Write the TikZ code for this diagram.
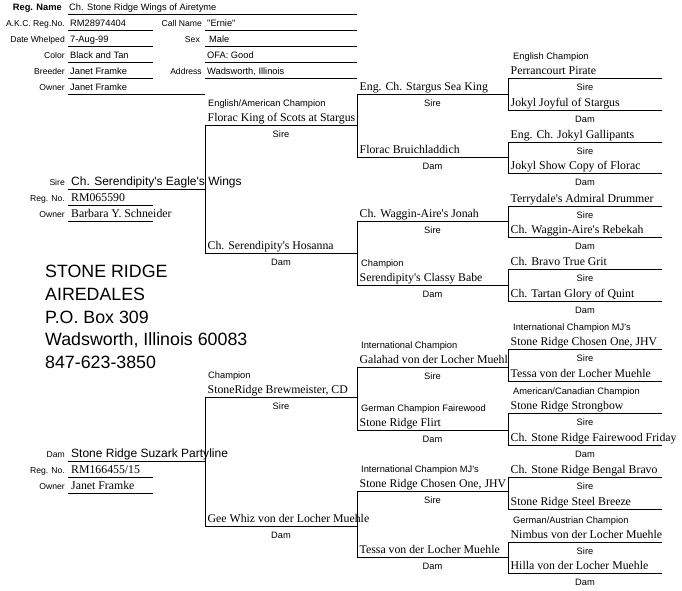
\documentclass[tikz,border=0pt]{standalone}
\usepackage{fontspec}
\setmainfont{Liberation Serif}
\newfontfamily\lsans{Liberation Sans}
\newfontfamily\lserif{Liberation Serif}
% #1 prefix, #2 x of vertical, #3 x right end, #4 upper y, #5 lower y,
% #6 upper name, #7 lower name, #8 label under the lower line (empty: none)
\newcommand\pedpair[8]{%
  \coordinate (#1ua) at (#3,#4);
  \coordinate (#1ub) at (#2,#4);
  \coordinate (#1la) at (#2,#5);
  \coordinate (#1lb) at (#3,#5);
  \draw[ln] (#1ua) -- (#1ub) -- (#1la) -- (#1lb);
  \node[nm] (#1u) at ({#2+2.5},{#4-3.5}) {#6};
  \node[nm] (#1l) at ({#2+2.5},{#5-3.5}) {#7};
  \node[lab] (#1s) at ({(#2+#3)/2},{#4+9.5}) {Sire};
  \if\relax\detokenize{#8}\relax\else
    \node[lab] (#1d) at ({(#2+#3)/2},{#5+9.5}) {#8};
  \fi
}
\begin{document}
\begin{tikzpicture}[x=1pt,y=-1pt,
  ln/.style={line width=0.9pt},
  hl/.style={font=\lsans\fontsize{8.6}{10}\selectfont, inner sep=0pt, anchor=base east},
  hv/.style={font=\lsans\fontsize{9.3}{11}\selectfont, inner sep=0pt, anchor=base west},
  lab/.style={font=\lsans\fontsize{9.3}{11}\selectfont, inner sep=0pt},
  ttl/.style={font=\lsans\fontsize{9.3}{11}\selectfont, inner sep=0pt, anchor=base west},
  nm/.style={font=\lserif\fontsize{11.8}{14}\selectfont, inner sep=0pt, anchor=base west},
  big/.style={font=\lsans\fontsize{12}{14}\selectfont, inner sep=0pt, anchor=base west},
  addr/.style={font=\lsans\fontsize{17.8}{20}\selectfont, inner sep=0pt, anchor=base west},
]
\fill[white] (0,0) rectangle (682,591);
\useasboundingbox (0,0) rectangle (682,591);

% ---- header form ----
\draw[ln] (68,14) -- (357,14);
\foreach \y in {30,46,62,78}{\draw[ln] (68,\y) -- (153,\y); \draw[ln] (205,\y) -- (357,\y);}
\draw[ln] (68,94) -- (205,94);

\node[hl,font=\lsans\bfseries\fontsize{9.3}{11}\selectfont] (hRN) at (62,10.5) {Reg. Name};
\node[hv] (vRN) at (69,10.5) {Ch. Stone Ridge Wings of Airetyme};
\node[hl] (hAKC) at (65,26.5) {A.K.C. Reg.No.};
\node[hv] (vAKC) at (70,26.5) {RM28974404};
\node[hl] (hCN) at (202,26.5) {Call Name};
\node[hv] (vCN) at (207,26.5) {"Ernie"};
\node[hl] (hDW) at (65,42.5) {Date Whelped};
\node[hv] (vDW) at (70,42.5) {7-Aug-99};
\node[hl] (hSX) at (200,42.5) {Sex};
\node[hv] (vSX) at (209,42.5) {Male};
\node[hl] (hCO) at (65,58.5) {Color};
\node[hv] (vCO) at (70,58.5) {Black and Tan};
\node[hv] (vOFA) at (207,58.5) {OFA: Good};
\node[hl] (hBR) at (65,74.5) {Breeder};
\node[hv] (vBR) at (70,74.5) {Janet Framke};
\node[hl] (hAD) at (202,74.5) {Address};
\node[hv] (vAD) at (207,74.5) {Wadsworth, Illinois};
\node[hl] (hOW) at (65,90.5) {Owner};
\node[hv] (vOW) at (70,90.5) {Janet Framke};

% ---- generation 1 ----
\draw[ln] (68,189) -- (205,189);
\draw[ln] (68,205) -- (153,205);
\draw[ln] (68,221) -- (153,221);
\node[hl] (sL) at (65,185.5) {Sire};
\node[big] (sN) at (71,185.5) {Ch. Serendipity's Eagle's Wings};
\node[hl] (sRL) at (65,201.5) {Reg. No.};
\node[nm] (sR) at (71,201.5) {RM065590};
\node[hl] (sOL) at (65,217.5) {Owner};
\node[nm] (sO) at (71,217.5) {Barbara Y. Schneider};

\draw[ln] (68,461) -- (205,461);
\draw[ln] (68,477) -- (153,477);
\draw[ln] (68,493) -- (153,493);
\node[hl] (dL) at (65,457.5) {Dam};
\node[big] (dN) at (71,457.5) {Stone Ridge Suzark Partyline};
\node[hl] (dRL) at (65,473.5) {Reg. No.};
\node[nm] (dR) at (71,473.5) {RM166455/15};
\node[hl] (dOL) at (65,489.5) {Owner};
\node[nm] (dO) at (71,489.5) {Janet Framke};

% ---- kennel address ----
\node[addr] (k1) at (45,277) {STONE RIDGE};
\node[addr] (k2) at (45,300) {AIREDALES};
\node[addr] (k3) at (45,323) {P.O. Box 309};
\node[addr] (k4) at (45,345.5) {Wadsworth, Illinois 60083};
\node[addr] (k5) at (45,368) {847-623-3850};

% ---- generation 2 ----
\pedpair{gA}{205}{357}{125}{253}{Florac King of Scots at Stargus}{Ch. Serendipity's Hosanna}{Dam}
\pedpair{gB}{205}{357}{397}{526}{StoneRidge Brewmeister, CD}{Gee Whiz von der Locher Muehle}{Dam}
\node[ttl] (tgA) at (208,106.5) {English/American Champion};
\node[ttl] (tgB) at (208,378.5) {Champion};

% ---- generation 3 ----
\pedpair{hA}{357}{508}{94}{157}{Eng. Ch. Stargus Sea King}{Florac Bruichladdich}{Dam}
\pedpair{hB}{357}{508}{221}{285}{Ch. Waggin-Aire's Jonah}{Serendipity's Classy Babe}{Dam}
\pedpair{hC}{357}{508}{367}{430}{Galahad von der Locher Muehl}{Stone Ridge Flirt}{Dam}
\pedpair{hD}{357}{508}{491}{557}{Stone Ridge Chosen One, JHV}{Tessa von der Locher Muehle}{Dam}
\node[ttl] (thB) at (361,266.5) {Champion};
\node[ttl] (thC) at (361,348.5) {International Champion};
\node[ttl] (thCl) at (361,411.5) {German Champion Fairewood};
\node[ttl] (thD) at (361,472.5) {International Champion MJ's};

% ---- generation 4 ----
\pedpair{iA}{508}{662}{78}{110}{Perrancourt Pirate}{Jokyl Joyful of Stargus}{Dam}
\pedpair{iB}{508}{662}{142}{173}{Eng. Ch. Jokyl Gallipants}{Jokyl Show Copy of Florac}{Dam}
\pedpair{iC}{508}{662}{206}{237}{Terrydale's Admiral Drummer}{Ch. Waggin-Aire's Rebekah}{Dam}
\pedpair{iD}{508}{662}{269}{301}{Ch. Bravo True Grit}{Ch. Tartan Glory of Quint}{Dam}
\pedpair{iE}{508}{662}{349}{381}{Stone Ridge Chosen One, JHV}{Tessa von der Locher Muehle}{}
\pedpair{iF}{508}{662}{413}{445}{Stone Ridge Strongbow}{Ch. Stone Ridge Fairewood Friday}{Dam}
\pedpair{iG}{508}{662}{477}{509}{Ch. Stone Ridge Bengal Bravo}{Stone Ridge Steel Breeze}{}
\pedpair{iH}{508}{662}{542}{573}{Nimbus von der Locher Muehle}{Hilla von der Locher Muehle}{Dam}
\node[ttl] (tiA) at (513,59.5) {English Champion};
\node[ttl] (tiE) at (513,330.5) {International Champion MJ's};
\node[ttl] (tiF) at (513,394.5) {American/Canadian Champion};
\node[ttl] (tiH) at (513,523.5) {German/Austrian Champion};
\end{tikzpicture}
\end{document}
